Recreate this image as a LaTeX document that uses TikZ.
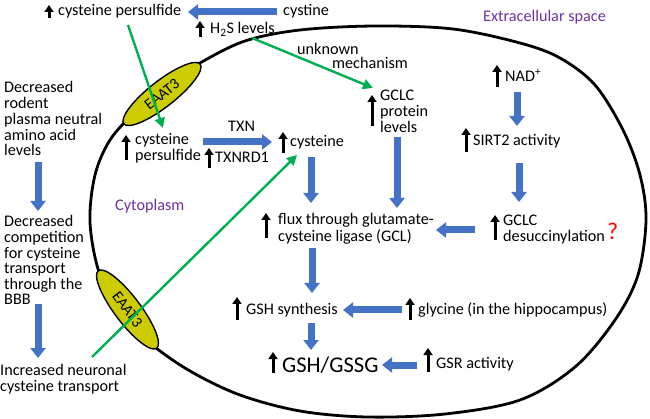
\documentclass[tikz,border=0pt]{standalone}
\usepackage{fontspec}
\setmainfont{Carlito}
\usetikzlibrary{arrows.meta,shapes.geometric}
\definecolor{blueA}{HTML}{4472C4}
\definecolor{greenA}{HTML}{00B050}
\definecolor{purpleA}{HTML}{7030A0}
\definecolor{oliveA}{HTML}{CCCC00}
\newcommand{\mlines}[1]{\begin{tabular}[t]{@{}l@{}}#1\end{tabular}}
\newcommand{\upar}[4]{\draw[uparr] ([xshift=#2pt,yshift=#3pt]#1.base west) -- ++(0,-#4);}
\tikzset{
  txt/.style={inner sep=0pt, anchor=base west},
  regiontxt/.style={txt, text=purpleA},
  blk/.style={draw=blueA, line width=7pt, -{Triangle[length=10pt,width=15pt]}},
  grn/.style={draw=greenA, line width=2.4pt, -{Triangle[length=10pt,width=10pt]}},
  uparr/.style={draw=black, line width=3pt, -{Triangle[length=7pt,width=9pt]}},
  eaat/.style={ellipse, draw=black, line width=1.4pt, fill=oliveA, minimum width=97pt, minimum height=26pt, inner sep=0pt, font=\fontsize{15.5}{15}\selectfont},
}
\begin{document}
\begin{tikzpicture}[x=1pt, y=-1pt, font=\fontsize{16.2}{15}\selectfont]
\useasboundingbox (0,0) rectangle (650,419);
% cell membrane
\draw[line width=2.8pt] plot[smooth cycle, tension=0.55] coordinates {
 (375,26) (453,29) (520,43) (560,58) (595,85) (623,130) (640,175) (646,220)
 (638,275) (615,320) (575,367) (520,400) (445,414) (367,417) (300,411) (240,395)
 (190,371) (150,343) (120,312) (99,272) (90,222) (95,175) (110,140) (135,112)
 (165,86) (200,63) (245,41) (300,30)};
% transporters
\node[eaat, rotate=38] (e1) at (162,94) {EAAT3};
\node[eaat, rotate=-53] (e2) at (127.5,309.5) {EAAT3};

% texts outside
\node[txt] (cp_out) at (58,16) {cysteine persulfide};
\node[txt] (cystine) at (283,16) {cystine};
\node[txt] (h2s) at (210,34) {H\textsubscript{2}S levels};
\node[txt] (unknown) at (297,55) {\mlines{unknown\\[-2pt]\hspace*{35pt}mechanism}};
\node[regiontxt] (extra) at (483,22) {Extracellular space};
\node[txt] (left1) at (4,93) {\mlines{Decreased\\rodent\\plasma neutral\\amino acid\\levels}};
\node[txt] (left2) at (4,227) {\mlines{Decreased\\competition\\for cysteine\\transport\\through the\\BBB}};
\node[txt] (left3) at (0,375) {\mlines{Increased neuronal\\[1pt]cysteine transport}};

% texts inside
\node[txt] (cp_in) at (135,145) {\mlines{cysteine\\persulfide}};
\node[txt] (txn) at (228,132) {TXN};
\node[txt] (txnrd1) at (215,163) {TXNRD1};
\node[txt] (cys) at (290,147) {cysteine};
\node[regiontxt] (cyto) at (115,211) {Cytoplasm};
\node[txt] (gclc) at (380,101) {\mlines{GCLC\\protein\\levels}};
\node[txt] (nad) at (505,82) {NAD\textsuperscript{+}};
\node[txt] (sirt2) at (473,146) {SIRT2 activity};
\node[txt] (flux) at (278,225) {\mlines{flux through glutamate-\\cysteine ligase (GCL)}};
\node[txt] (desucc) at (503,226) {\mlines{GCLC\\desuccinylation}};
\node[txt, text=red, font=\fontsize{24}{24}\selectfont] (qmark) at (607,240) {?};
\node[txt] (gshsyn) at (246,315) {GSH synthesis};
\node[txt] (glycine) at (418,315) {glycine (in the hippocampus)};
\node[txt, font=\fontsize{22.5}{23}\selectfont] (gshgssg) at (282,372) {GSH/GSSG};
\node[txt] (gsr) at (436,368) {GSR activity};

% up arrows
\upar{cp_out}{-9}{-2}{13}
\upar{h2s}{-10}{-3}{16}
\upar{cp_in}{-9}{-15}{25}
\upar{txnrd1}{-6}{-5}{20}
\upar{cys}{-7}{-6}{21}
\upar{gclc}{-8}{-25}{31}
\upar{nad}{-8}{-5}{22}
\upar{sirt2}{-7}{-6}{24}
\upar{flux}{-12}{-13}{25}
\upar{desucc}{-8}{-14}{25}
\upar{gshsyn}{-9}{-5}{23}
\upar{glycine}{-8}{-5}{22}
\upar{gshgssg}{-9}{-1}{21}
\upar{gsr}{-8}{-4}{24}

% green connectors
\draw[grn] ([xshift=70pt,yshift=-9pt]cp_out.base west) -- ([xshift=28pt,yshift=17pt]cp_in.base west);
\draw[grn] ([xshift=42pt,yshift=-4pt]h2s.base west) -- ([xshift=-7pt,yshift=13pt]gclc.base west);
\coordinate (g3s) at (92,357);
\draw[grn] (g3s) -- ([xshift=7pt,yshift=-8pt]cys.base west);

% blue block arrows
\draw[blk] ([xshift=-6pt,yshift=4pt]cystine.base west) -- ([xshift=130pt,yshift=4pt]cp_out.base west);
\draw[blk] ([xshift=68pt,yshift=3pt]cp_in.base west) -- ([xshift=-18pt,yshift=5pt]cys.base west);
\draw[blk] ([xshift=21pt,yshift=-10pt]cys.base west) -- ([xshift=33pt,yshift=22pt]flux.base west);
\draw[blk] ([xshift=17pt,yshift=-36pt]gclc.base west) -- ([xshift=119pt,yshift=17pt]flux.base west);
\draw[blk] ([xshift=12pt,yshift=-10pt]nad.base west) -- ([xshift=44pt,yshift=20pt]sirt2.base west);
\draw[blk] ([xshift=46pt,yshift=-17pt]sirt2.base west) -- ([xshift=16pt,yshift=24pt]desucc.base west);
\draw[blk] ([xshift=-28pt,yshift=-4pt]desucc.base west) -- ([xshift=158pt,yshift=-5pt]flux.base west);
\draw[blk] ([xshift=34pt,yshift=-23pt]flux.base west) -- ([xshift=66pt,yshift=22pt]gshsyn.base west);
\draw[blk] ([xshift=-16pt,yshift=5pt]glycine.base west) -- ([xshift=97pt,yshift=5pt]gshsyn.base west);
\draw[blk] ([xshift=65pt,yshift=-8pt]gshsyn.base west) -- ([xshift=29pt,yshift=22pt]gshgssg.base west);
\draw[blk] ([xshift=-19pt,yshift=3pt]gsr.base west) -- ([xshift=100pt,yshift=7pt]gshgssg.base west);
\draw[blk] ([xshift=34pt,yshift=-69pt]left1.base west) -- ([xshift=34pt,yshift=16pt]left2.base west);
\draw[blk] ([xshift=34pt,yshift=-77pt]left2.base west) -- ([xshift=38pt,yshift=17pt]left3.base west);
\end{tikzpicture}
\end{document}
